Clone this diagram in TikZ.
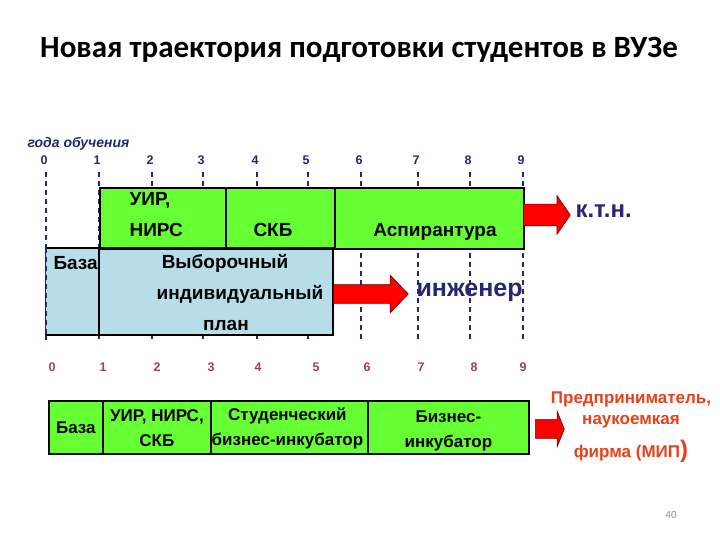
\documentclass[tikz,border=0pt]{standalone}
\usepackage{fontspec}
\setmainfont{Liberation Sans}
\newfontfamily\titlefont{Carlito}
\usetikzlibrary{shapes.arrows}
\definecolor{cgreen}{HTML}{66FF33}
\definecolor{cblue}{HTML}{B7DDE8}
\definecolor{cnavy}{HTML}{262673}
\definecolor{cmaroon}{HTML}{A0405A}
\definecolor{corange}{HTML}{E8401C}
\definecolor{cred}{HTML}{FF0000}
\tikzset{
  cell/.style={draw=black,line width=1.8pt,fill=cgreen,anchor=north west,inner sep=0pt},
  yrtick/.style={cnavy,line width=1.6pt,dash pattern=on 5pt off 4pt},
  yr/.style={font=\bfseries\fontsize{12.5}{12.5}\selectfont,text=cnavy},
  yrb/.style={font=\bfseries\fontsize{12.5}{12.5}\selectfont,text=cmaroon},
  lbl/.style={font=\bfseries\fontsize{19}{31}\selectfont},
  lbls/.style={font=\bfseries\fontsize{17}{25}\selectfont,align=center},
  bigarrow/.style={single arrow,draw=black!60!red,fill=cred,line width=0.6pt,
                   inner xsep=0pt,anchor=tail,minimum height=#1},
}

\begin{document}
\begin{tikzpicture}[x=1pt,y=-1pt]
\useasboundingbox (0,0) rectangle (720,540);

% ---------- title ----------
\node[font=\titlefont\bfseries\fontsize{31}{31}\selectfont] (title) at (359,50)
  {Новая траектория подготовки студентов в ВУЗе};

% ---------- top scale ----------
\node[yr,font=\bfseries\itshape\fontsize{14}{14}\selectfont,anchor=west] (years) at (24,144) {года обучения};
\foreach \x [count=\i from 0] in {46,99,152,203,257,308,361,418,470,523} {
  \node[yr] (t\i) at (\x-2,160) {\i};
  \draw[yrtick] (\x,172) -- (\x,340);
}

% ---------- upper track ----------
\fill[cblue] (46,248) rectangle (333,335);
\node[cell,minimum width=126,minimum height=61] (uir) at (99,187) {};
\node[cell,minimum width=109,minimum height=61] (skb) at (225,187) {};
\node[cell,minimum width=189,minimum height=61] (asp) at (334,187) {};
\node[lbl,align=left,anchor=west] (uirtxt) at (126,214.5) {УИР,\\НИРС};
\node[lbl] (skbtxt) at (273,230) {СКБ};
\node[lbl] (asptxt) at (435,232) {Аспирантура};

% blue part
\draw[line width=1.6pt] (46,248) -- (333,248) -- (333,335) -- (46,335);
\draw[line width=1.6pt] (99,248) -- (99,335);
\draw[yrtick] (46,248) -- (46,340);
\node[lbl,anchor=west] (baza) at (50,263) {База};
\node[lbl] (vyb) at (225,263) {Выборочный};
\node[lbl] (ind) at (240,294) {индивидуальный};
\node[lbl] (plan) at (226,325) {план};

% arrows to results
\node[bigarrow=47,inner ysep=10.5pt,single arrow head extend=8.5pt,
      single arrow tip angle=111] (arrk) at (523,215) {};
\node[font=\bfseries\fontsize{24}{24}\selectfont,text=cnavy,anchor=west] (ktn) at (572,211) {к.т.н.};
\node[bigarrow=75,inner ysep=9pt,single arrow head extend=9.5pt,
      single arrow tip angle=92] (arri) at (333,294) {};
\node[font=\bfseries\fontsize{25}{25}\selectfont,text=cnavy,anchor=west] (ing) at (413,292) {инженер};

% ---------- lower scale ----------
\foreach \x [count=\i from 0] in {52,103,157,211,258,316,367,421,474,523}
  \node[yrb] (b\i) at (\x,367) {\i};

% ---------- lower track ----------
\node[cell,minimum width=54,minimum height=53] (baza2) at (48,400) {};
\node[cell,minimum width=108,minimum height=53] (nirs) at (102,400) {};
\node[cell,minimum width=157,minimum height=53] (sbi) at (210,400) {};
\node[cell,minimum width=161,minimum height=53] (bi) at (367,400) {};
\node[lbls] at (baza2.center) {База};
\node[lbls] at ([yshift=-1]nirs.center) {УИР, НИРС,\\СКБ};
\node[lbls] at ([xshift=-2,yshift=-1]sbi.center) {Студенческий\\бизнес-инкубатор};
\node[lbls] at ([yshift=-4]bi.center) {Бизнес-\\инкубатор};

\node[bigarrow=29,inner ysep=9pt,single arrow head extend=8.5pt,
      single arrow tip angle=136] (arrm) at (535,429) {};
\node[font=\bfseries\fontsize{17}{21}\selectfont,text=corange,align=center] (mip) at (631,427)
  {Предприниматель,\\наукоемкая\\[12pt]фирма (МИП{\fontsize{24}{24}\selectfont)}};

\node[font=\titlefont\fontsize{11}{11}\selectfont,text=black!45] (page) at (671,515) {40};
\end{tikzpicture}
\end{document}
